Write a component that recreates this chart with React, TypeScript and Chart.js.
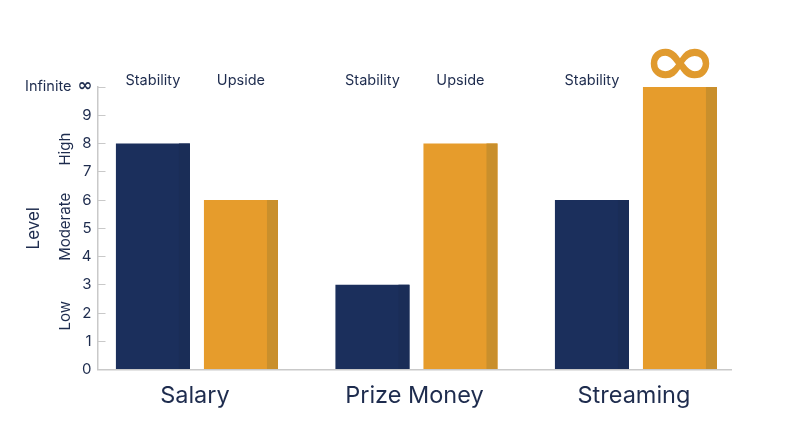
import { useEffect, useRef } from "react";
import { Chart, registerables, type Plugin } from "chart.js";

Chart.register(...registerables);

const categories = ["Salary", "Prize Money", "Streaming"];
const stabilityValues = [8, 3, 6];
const upsideValues = [6, 8, 10];
const seriesNames = ["Stability", "Upside"];
const levelNames = ["High", "Moderate", "Low"];
const levelCentres = [7.8, 5.05, 1.9];
const infiniteValue = 10;

const FONT = "Inter, 'Noto Sans', sans-serif";
const NAVY = "#1b2f5c";
const NAVY_SHADE = "#1a2d57";
const ORANGE = "#e69c2c";
const ORANGE_SHADE = "#c98f2c";
const TEXT = "#1e2c4e";
const AXIS = "#c9c9c9";

const barDecor: Plugin<"bar"> = {
  id: "barDecor",
  afterDatasetsDraw(chart) {
    const { ctx, scales } = chart;
    ctx.save();

    // darker strip on the right edge of each bar
    chart.data.datasets.forEach((_, di) => {
      chart.getDatasetMeta(di).data.forEach((el: any) => {
        const right = el.x + el.width / 2;
        ctx.fillStyle = di === 0 ? NAVY_SHADE : ORANGE_SHADE;
        ctx.fillRect(right - 11, el.y, 11, el.base - el.y);
      });
    });

    // series names above the bars, the infinite bar gets the symbol instead
    ctx.textAlign = "center";
    ctx.textBaseline = "middle";
    chart.data.datasets.forEach((ds, di) => {
      chart.getDatasetMeta(di).data.forEach((el: any, i) => {
        const raw = ds.data[i] as any;
        if (raw.y === infiniteValue && di === 1) {
          ctx.save();
          ctx.translate(el.x, el.y - 21);
          ctx.scale(1.25, 1);
          ctx.font = "bold 72px 'DejaVu Sans'";
          ctx.fillStyle = "#e09a2e";
          ctx.fillText("∞", 0, 0);
          ctx.restore();
        } else {
          ctx.font = `14.5px ${FONT}`;
          ctx.fillStyle = TEXT;
          ctx.fillText(seriesNames[di], el.x, scales.y.getPixelForValue(infiniteValue) - 6);
        }
      });
    });

    // Low / Moderate / High bands next to the ticks
    ctx.font = `15px ${FONT}`;
    ctx.fillStyle = TEXT;
    levelNames.forEach((name, i) => {
      ctx.save();
      ctx.translate(65, scales.y.getPixelForValue(levelCentres[i]));
      ctx.rotate(-Math.PI / 2);
      ctx.fillText(name, 0, 0);
      ctx.restore();
    });

    // top tick label, word and symbol have different weights
    const topY = scales.y.getPixelForValue(infiniteValue);
    ctx.textAlign = "right";
    ctx.font = `14.5px ${FONT}`;
    ctx.fillText("Infinite", 71.5, topY);
    ctx.textAlign = "center";
    ctx.font = "bold 18px 'DejaVu Sans'";
    ctx.fillText("∞", 85, topY - 1);

    ctx.restore();
  },
};

export default function App() {
  const canvasRef = useRef<HTMLCanvasElement | null>(null);

  useEffect(() => {
    const canvas = canvasRef.current;
    if (!canvas) return;

    const chart = new Chart(canvas, {
      type: "bar",
      data: {
        datasets: [
          {
            label: seriesNames[0],
            data: stabilityValues.map((y, x) => ({ x, y })) as any,
            backgroundColor: NAVY,
          },
          {
            label: seriesNames[1],
            data: upsideValues.map((y, x) => ({ x, y })) as any,
            backgroundColor: ORANGE,
          },
        ],
      },
      options: {
        animation: false,
        responsive: false,
        layout: { padding: { top: 87, right: 69, left: 0, bottom: 0 } },
        datasets: { bar: { categoryPercentage: 0.802, barPercentage: 0.841 } },
        plugins: { legend: { display: false }, tooltip: { enabled: false } },
        scales: {
          x: {
            type: "linear",
            offset: false,
            min: -0.453,
            max: 2.433,
            grid: { display: false },
            border: { color: AXIS, width: 1.5 },
            afterFit: (scale: any) => {
              scale.height = 77.5;
            },
            afterBuildTicks: (scale: any) => {
              scale.ticks = categories.map((_, value) => ({ value }));
            },
            ticks: {
              autoSkip: false,
              maxRotation: 0,
              padding: 4,
              labelOffset: -2,
              color: TEXT,
              font: { family: FONT, size: 23.5 },
              callback: (value: any) => categories[value as number] ?? "",
            },
          },
          y: {
            min: 0,
            max: 10,
            grid: { drawOnChartArea: false, color: AXIS, tickLength: -8 },
            border: { color: AXIS, width: 1.5 },
            afterFit: (scale: any) => {
              scale.width = 97.5;
            },
            title: {
              display: true,
              text: "Level",
              color: TEXT,
              font: { family: FONT, size: 17 },
              padding: { top: 24, bottom: 0 },
            },
            ticks: {
              stepSize: 1,
              padding: 14,
              color: TEXT,
              font: { family: FONT, size: 15 },
              callback: (value: any) => (value === infiniteValue ? "" : String(value)),
            },
          },
        },
      },
      plugins: [barDecor],
    });

    return () => chart.destroy();
  }, []);

  return (
    <div style={{ position: "fixed", left: 0, top: 0, width: 800, height: 447, background: "#fff" }}>
      <canvas ref={canvasRef} width={800} height={447} style={{ display: "block" }} />
    </div>
  );
}
